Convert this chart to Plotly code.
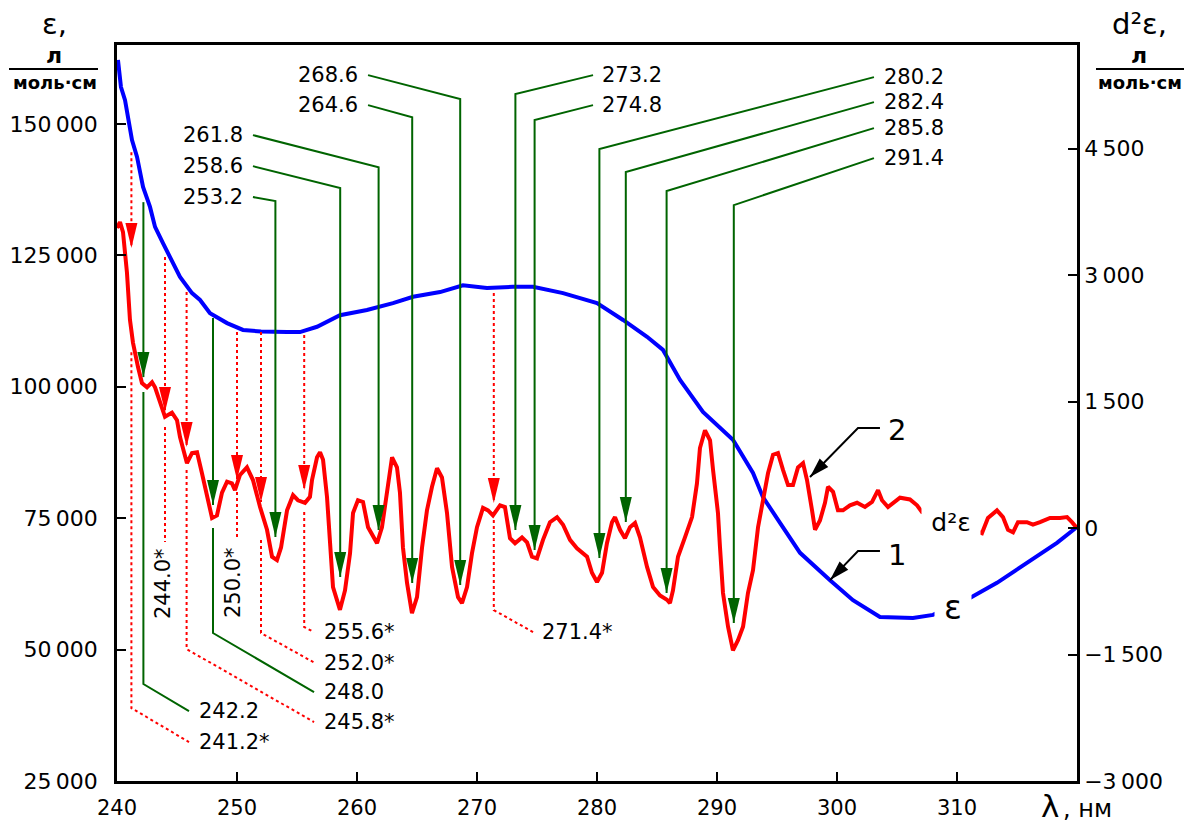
import math
import plotly.graph_objects as go

# ---------------- spectra ----------------
# curve 1: molar absorptivity ε, л/(моль·см)
eps_wl = [240.08, 240.33, 240.67, 241.25, 241.67, 242.17, 242.75, 243.17, 243.83, 244.42,
          245.25, 246.25, 246.92, 247.75, 249.17, 250.5, 252.0, 254.17, 255.25, 256.67,
          258.58, 260.83, 263.0, 264.67, 266.92, 268.83, 270.83, 273.0, 274.67, 277.17,
          280.0, 282.17, 284.17, 285.5, 286.92, 288.83, 291.33, 293.0, 293.83, 295.25,
          296.92, 299.42, 301.33, 303.58, 306.33, 308.0, 311.08, 313.33, 316.08, 318.33,
          320.0]
eps_val = [162150, 157000, 154500, 146900, 143700, 138000, 134200, 130400, 127300, 124700,
           120900, 117800, 116500, 114000, 112100, 110800, 110500, 110400, 110400, 111400,
           113600, 114600, 115900, 117100, 118000, 119300, 118800, 119000, 119000, 117800,
           115900, 112700, 109500, 107000, 101300, 95200, 89900, 83600, 79000, 74100,
           68400, 63200, 59400, 56200, 56000, 56600, 59800, 62700, 67000, 70300,
           73300]

# curve 2: second derivative d²ε
d2_wl = [240.0, 240.25, 240.5, 240.83, 241.08, 241.33, 241.75, 242.08, 242.5, 242.92,
         243.17, 243.58, 244.0, 244.58, 245.0, 245.25, 245.83, 246.25, 246.67, 247.08,
         247.5, 247.92, 248.33, 248.75, 249.17, 249.58, 249.83, 250.25, 250.83, 251.33,
         251.92, 252.5, 252.92, 253.33, 253.67, 254.17, 254.67, 255.08, 255.67, 256.08,
         256.25, 256.67, 256.92, 257.17, 257.5, 257.75, 258.0, 258.58, 259.0, 259.42,
         259.67, 260.08, 260.5, 260.92, 261.67, 262.08, 262.5, 262.92, 263.33, 263.58,
         263.83, 264.17, 264.58, 265.0, 265.42, 265.83, 266.25, 266.67, 267.08, 267.5,
         267.92, 268.42, 268.75, 269.17, 269.58, 270.0, 270.5, 270.92, 271.33, 271.92,
         272.33, 272.75, 273.17, 273.75, 274.17, 274.58, 275.0, 275.5, 276.08, 276.67,
         277.17, 277.75, 278.33, 279.17, 279.58, 280.0, 280.42, 280.83, 281.25, 281.5,
         281.92, 282.33, 282.75, 283.17, 283.58, 284.17, 284.67, 285.25, 285.83, 286.08,
         286.33, 286.75, 287.33, 287.92, 288.33, 288.58, 289.0, 289.42, 289.67, 290.08,
         290.25, 290.5, 290.92, 291.33, 291.75, 292.17, 292.58, 293.0, 293.42, 293.83,
         294.25, 294.67, 295.08, 295.5, 295.92, 296.33, 296.75, 297.17, 297.5, 297.92,
         298.17, 298.58, 299.0, 299.25, 299.67, 300.08, 300.5, 301.08, 301.67, 302.33,
         302.92, 303.42, 303.75, 304.25, 304.67, 305.25, 306.08, 306.67, 307.08, 312.08,
         312.58, 313.33, 313.83, 314.25, 314.67, 315.08, 315.83, 316.33, 316.92, 317.75,
         318.58, 319.17, 319.58, 320.0]
d2_val = [3560, 3630, 3510, 3030, 2470, 2200, 1910, 1720, 1670, 1730,
          1670, 1480, 1320, 1370, 1280, 1080, 770, 890, 900, 650,
          370, 120, 150, 420, 550, 530, 450, 630, 720, 570,
          250, -20, -340, -380, -230, 210, 390, 330, 300, 370,
          570, 840, 900, 810, 370, -230, -700, -970, -740, -300,
          180, 330, 310, 10, -180, 10, 420, 840, 720, 420,
          -230, -650, -1010, -820, -230, 210, 490, 710, 600, 180,
          -460, -820, -890, -700, -300, 10, 240, 210, 150, 270,
          250, -120, -180, -110, -170, -340, -360, -140, 70, 130,
          40, -140, -240, -340, -530, -640, -530, -180, 70, 130,
          -20, -120, 10, 60, -110, -460, -700, -800, -850, -890,
          -740, -340, -110, 130, 530, 950, 1160, 1040, 690, 180,
          -230, -770, -1170, -1450, -1330, -1170, -770, -500, 10, 300,
          650, 870, 890, 690, 510, 510, 720, 770, 570, 210,
          -20, 90, 300, 490, 430, 210, 210, 270, 300, 250,
          310, 450, 330, 250, 300, 360, 340, 270, 190, -60,
          120, 210, 130, -20, -50, 70, 70, 40, 70, 120,
          120, 130, 70, 0]

# bands located on the d²ε curve
bands_main = [242.2, 248.0, 253.2, 258.6, 261.8, 264.6, 268.6,
              273.2, 274.8, 280.2, 282.4, 285.8, 291.4]
bands_shoulder = [241.2, 244.0, 245.8, 250.0, 252.0, 255.6, 271.4]

x_ticks = [240, 250, 260, 270, 280, 290, 300, 310]
eps_ticks = [25000, 50000, 75000, 100000, 125000, 150000]
eps_tick_text = ["25\u2009000", "50\u2009000", "75\u2009000", "100\u2009000",
                 "125\u2009000", "150\u2009000"]
d2_ticks = [-3000, -1500, 0, 1500, 3000, 4500]
d2_tick_text = ["\u22123\u2009000", "\u22121\u2009500", "0", "1\u2009500",
                "3\u2009000", "4\u2009500"]

# ---------------- layout constants ----------------
W, H = 1187, 827
M_L, M_R, M_T, M_B = 117, 110, 45, 46
X_RANGE = [240, 320]
EPS_RANGE = [25000, 165000]
D2_RANGE = [-3000, 5730]
PLOT_W = W - M_L - M_R
PLOT_H = H - M_T - M_B
PX_X = PLOT_W / (X_RANGE[1] - X_RANGE[0])
PX_D2 = PLOT_H / (D2_RANGE[1] - D2_RANGE[0])

FONT = "DejaVu Sans"
GREEN = "#006400"
RED = "#ff0000"
BLUE = "#0000ff"

# callouts whose label sits above the plot:
# band, label x, label y, leader start x, elbow y, arrow tip y, label anchor
top_callouts = [
    (261.8, 250.67, 4661, 251.33, 4281, -24, "right"),
    (258.6, 250.67, 4293, 251.33, 4032, -581, "right"),
    (253.2, 250.67, 3926, 251.33, 3878, -107, "right"),
    (268.6, 260.25, 5373, 260.92, 5088, -676, "right"),
    (264.6, 260.25, 5017, 260.92, 4874, -652, "right"),
    (273.2, 280.25, 5373, 279.67, 5147, -24, "left"),
    (274.8, 280.25, 5017, 279.67, 4839, -261, "left"),
    (280.2, 303.75, 5349, 303.08, 4495, -356, "left"),
    (282.4, 303.75, 5052, 303.08, 4222, 71, "left"),
    (285.8, 303.75, 4744, 303.08, 3997, -771, "left"),
    (291.4, 303.75, 4388, 303.08, 3831, -1127, "left"),
]

# callouts whose label sits below the curve:
# band, shaft top y, tip y, tail start y, tail bend y, tail end (x, y) or None,
# label (x, y), text angle
bottom_callouts = [
    (242.2, 3866, 1791, 1613, -1850, (246.0, -2170), (246.67, -2170), 0),
    (248.0, 2491, 273, 0, -1245, (256.42, -1945), (257.08, -1945), 0),
    (241.2, 4459, 3321, 2087, -2135, (246.0, -2538), (246.67, -2538), 0),
    (244.0, 3214, 1376, 1198, -166, None, (243.83, -652), -90),
    (245.8, 2799, 961, 688, -1435, (256.42, -2301), (257.08, -2301), 0),
    (250.0, 2325, 569, 427, -142, None, (249.67, -652), -90),
    (252.0, 2325, 308, -142, -1245, (256.5, -1601), (257.08, -1601), 0),
    (255.6, 2289, 451, 190, -1174, (256.42, -1233), (257.08, -1233), 0),
    (271.4, 2787, 297, 95, -973, (274.67, -1233), (275.25, -1233), 0),
]

# numbered curve pointers: text, label (x, y), leader start x, bend x, leader y, tip (x, y)
curve_pointers = [
    ("2", (305.0, 1162), 303.58, 301.75, 1186, (297.75, 605)),
    ("1", (305.0, -320), 303.58, 301.75, -273, (299.42, -617)),
]

shapes = []
annotations = []


def polyline(points, color, dash="solid", width=2):
    path = "M " + " L ".join(f"{x},{y}" for x, y in points)
    return dict(type="path", xref="x", yref="y2", path=path,
                line=dict(color=color, width=width, dash=dash), layer="above")


def arrowhead(x, y, color, dx=0.0, dy=-1.0, length=25, half=6):
    """Filled triangle with its point at (x, y), pointing along (dx, dy) in pixels."""
    n = math.hypot(dx, dy)
    ux, uy = dx / n, dy / n
    bx, by = -ux * length, -uy * length
    px, py = -uy * half, ux * half
    path = (f"M 0,0 L {bx + px:.2f},{by + py:.2f} "
            f"L {bx - px:.2f},{by - py:.2f} Z")
    return dict(type="path", xref="x", yref="y2", xsizemode="pixel",
                ysizemode="pixel", xanchor=x, yanchor=y, path=path,
                fillcolor=color, line=dict(width=0), layer="above")


def text(s, x, y, xanchor="center", size=20, angle=0, xref="x", yref="y2",
         weight="normal", **kw):
    annotations.append(dict(text=s, x=x, y=y, xref=xref, yref=yref,
                            xanchor=xanchor, yanchor="middle", showarrow=False,
                            textangle=angle,
                            font=dict(family=FONT, size=size, color="black",
                                      weight=weight), **kw))


shoulder_set = set(bands_shoulder)

for band, lx, ly, sx, elbow, tip, anchor in top_callouts:
    shapes.append(polyline([(sx, ly), (band, elbow), (band, tip)], GREEN))
    shapes.append(arrowhead(band, tip, GREEN))
    text(f"{band:.1f}", lx, ly, xanchor=anchor, size=21)

for band, top, tip, t0, t1, tail_end, (lx, ly), angle in bottom_callouts:
    shoulder = band in shoulder_set
    color = RED if shoulder else GREEN
    dash = "dot" if shoulder else "solid"
    shapes.append(polyline([(band, top), (band, tip)], color, dash))
    shapes.append(arrowhead(band, tip, color))
    tail = [(band, t0), (band, t1)]
    if tail_end is not None:
        tail.append(tail_end)
    shapes.append(polyline(tail, color, dash))
    label = f"{band:.1f}*" if shoulder else f"{band:.1f}"
    if angle:
        text(label, lx, ly, angle=angle, size=21)
    else:
        text(label, lx, ly, xanchor="left", size=21)

for s, (lx, ly), x0, x1, yl, (tx, ty) in curve_pointers:
    shapes.append(polyline([(x0, yl), (x1, yl), (tx, ty)], "black"))
    shapes.append(arrowhead(tx, ty, "black",
                            dx=(tx - x1) * PX_X, dy=(ty - yl) * PX_D2,
                            length=20, half=6))
    text(s, lx, ly, size=29)

# in-plot curve names, drawn on white so the curves break around them
text("d\u00b2\u025b", 309.5, 71, size=25, bgcolor="white", width=56, height=30)
text("\u025b", 309.67, -937, size=33, bgcolor="white", width=34, height=34)


# axis titles (paper coordinates)
def to_paper_x(px):
    return (px - M_L) / PLOT_W


def to_paper_y(py):
    return (H - M_B - py) / PLOT_H


for cx, head in ((54, "\u025b,"), (1139, "d\u00b2\u025b,")):
    text(head, to_paper_x(cx), to_paper_y(24), size=29, xref="paper", yref="paper")
    text("л", to_paper_x(cx), to_paper_y(55), size=22, weight="bold",
         xref="paper", yref="paper")
    text("моль·см", to_paper_x(cx + 1), to_paper_y(83), size=18, weight="bold",
         xref="paper", yref="paper")
for x0, x1 in ((9, 98), (1096, 1184)):
    shapes.append(dict(type="line", xref="paper", yref="paper",
                       x0=to_paper_x(x0), x1=to_paper_x(x1),
                       y0=to_paper_y(69), y1=to_paper_y(69),
                       line=dict(color="black", width=2)))

text("λ", to_paper_x(1050), to_paper_y(806), size=31, xref="paper", yref="paper")
text(", нм", to_paper_x(1061), to_paper_y(809), size=24, xanchor="left",
     xref="paper", yref="paper")

fig = go.Figure()
fig.add_trace(go.Scatter(x=eps_wl, y=eps_val, mode="lines", yaxis="y",
                         line=dict(color=BLUE, width=4), name="ε", hoverinfo="skip"))
fig.add_trace(go.Scatter(x=d2_wl, y=d2_val, mode="lines", yaxis="y2",
                         line=dict(color=RED, width=4), name="d²ε", hoverinfo="skip"))

axis_common = dict(showgrid=False, zeroline=False, showline=True, linecolor="black",
                   linewidth=2.5, ticks="inside", ticklen=9, tickwidth=2,
                   tickcolor="black", automargin=False)

fig.update_layout(
    width=W, height=H, autosize=False,
    margin=dict(l=M_L, r=M_R, t=M_T, b=M_B),
    paper_bgcolor="white", plot_bgcolor="white",
    showlegend=False,
    xaxis=dict(range=X_RANGE, tickvals=x_ticks, mirror=True, ticklabelstandoff=6,
               tickfont=dict(family=FONT, size=21, color="black"), **axis_common),
    yaxis=dict(range=EPS_RANGE, tickvals=eps_ticks, ticktext=eps_tick_text,
               ticklabelstandoff=12,
               tickfont=dict(family=FONT, size=22, color="black"), **axis_common),
    yaxis2=dict(range=D2_RANGE, tickvals=d2_ticks, ticktext=d2_tick_text,
                overlaying="y", side="right",
                tickfont=dict(family=FONT, size=22, color="black"), **axis_common),
    shapes=shapes,
    annotations=annotations,
)

fig.write_html("out.html")
